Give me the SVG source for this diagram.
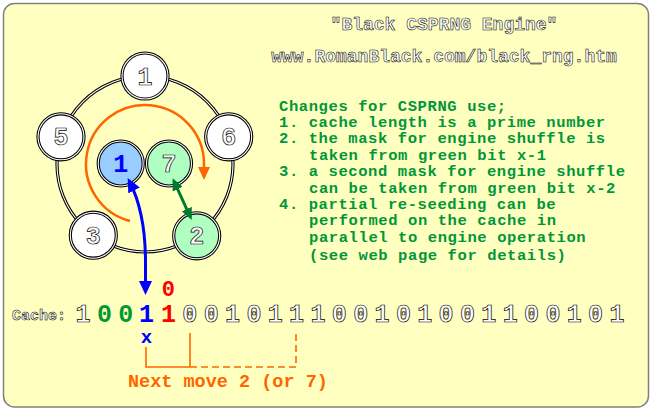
<svg xmlns="http://www.w3.org/2000/svg" width="653" height="411" viewBox="0 0 653 411">
<style>
.mono{font-family:"Liberation Mono","DejaVu Sans Mono",monospace}
.hollow{fill:#fff;stroke:#000;stroke-width:0.7;font-weight:bold}
.thin{stroke-width:0.55}
.green{fill:#00963a;font-weight:bold;font-size:15.5px;letter-spacing:0.6px}
.dbl-o{stroke:#000;stroke-width:3.2}
.dbl-i{fill:none;stroke:#fff;stroke-width:1.1}
.w{fill:#fff}
.g{fill:#b0ffc0}
.b{fill:#99ccff}
.num{font-size:25px;font-weight:bold;text-anchor:middle}
.dig{font-size:25px;text-anchor:middle}
.orange{fill:none;stroke:#ff6600;stroke-width:1.6}
</style>
<defs>
<marker id="mb" viewBox="0 0 14 13" refX="10" refY="6.5" markerWidth="14" markerHeight="13" markerUnits="userSpaceOnUse" orient="auto-start-reverse"><path d="M0,0 L14,6.5 L0,13 z" fill="#0000ff"/></marker>
<marker id="mg" viewBox="0 0 12 11" refX="9" refY="5.5" markerWidth="12" markerHeight="11" markerUnits="userSpaceOnUse" orient="auto-start-reverse"><path d="M0,0 L12,5.5 L0,11 z" fill="#007a30"/></marker>
<marker id="mo" viewBox="0 0 13 12" refX="10" refY="6" markerWidth="13" markerHeight="12" markerUnits="userSpaceOnUse" orient="auto"><path d="M0,0 L13,6 L0,12 z" fill="#ff6600"/></marker>
</defs>
<rect x="0" y="0" width="653" height="411" fill="#fff"/>
<rect id="panel" x="3.5" y="3.5" width="645" height="403.5" rx="11" fill="#ffffc0" stroke="#808080" stroke-width="1.5"/>

<g id="ring">
<circle cx="145" cy="164" r="88" fill="none" class="dbl-o"/>
<circle cx="145" cy="164" r="88" class="dbl-i"/>
</g>

<g id="connectors">
<path d="M130,221 A59,59 0 1 1 204,164 L204,177" fill="none" stroke="#ff6600" stroke-width="2.5" marker-end="url(#mo)"/>
</g>

<g id="node-1">
<circle cx="145" cy="76" r="23" class="dbl-o w"/><circle cx="145" cy="76" r="23" class="dbl-i"/>
<text x="145" y="84.5" class="mono hollow num">1</text>
</g>
<g id="node-6">
<circle cx="228.7" cy="136.8" r="23" class="dbl-o w"/><circle cx="228.7" cy="136.8" r="23" class="dbl-i"/>
<text x="228.7" y="145.3" class="mono hollow num">6</text>
</g>
<g id="node-2">
<circle cx="196.7" cy="235.8" r="23" class="dbl-o g"/><circle cx="196.7" cy="235.8" r="23" class="dbl-i"/>
<text x="196.7" y="244.3" class="mono hollow num">2</text>
</g>
<g id="node-3">
<circle cx="93.3" cy="235.2" r="23" class="dbl-o w"/><circle cx="93.3" cy="235.2" r="23" class="dbl-i"/>
<text x="93.3" y="243.7" class="mono hollow num">3</text>
</g>
<g id="node-5">
<circle cx="61" cy="136.8" r="23" class="dbl-o w"/><circle cx="61" cy="136.8" r="23" class="dbl-i"/>
<text x="61" y="145.3" class="mono hollow num">5</text>
</g>
<g id="inner-1">
<circle cx="120.7" cy="163.5" r="22.5" class="dbl-o b"/><circle cx="120.7" cy="163.5" r="22.5" class="dbl-i"/>
<text x="120.7" y="172" class="mono num" fill="#0000ff">1</text>
</g>
<g id="inner-7">
<circle cx="169" cy="163.5" r="22.5" class="dbl-o g"/><circle cx="169" cy="163.5" r="22.5" class="dbl-i"/>
<text x="169" y="172" class="mono hollow num">7</text>
</g>

<g id="arrows">
<path d="M145.5,291 L145.5,262 C145.5,228 139,200 129.5,181.5" fill="none" stroke="#0000ff" stroke-width="3" marker-start="url(#mb)" marker-end="url(#mb)"/>
<path d="M173.9,181 L190.5,217.3" fill="none" stroke="#007a30" stroke-width="3" marker-start="url(#mg)" marker-end="url(#mg)"/>
<path d="M146,347 V367 H190 M190,333 V367" class="orange"/>
<path d="M190,367 H296 V334" class="orange" stroke-dasharray="7 4"/>
</g>

<g id="header">
<text x="444" y="30" class="mono hollow thin" font-size="18" text-anchor="middle">"Black CSPRNG Engine"</text>
<text x="444" y="61.5" class="mono hollow thin" font-size="18" text-anchor="middle">www.RomanBlack.com/black_rng.htm</text>
</g>

<g id="notes" class="mono green">
<text x="279" y="110.7">Changes for CSPRNG use;</text>
<text x="279" y="127">1. cache length is a prime number</text>
<text x="279" y="143.4">2. the mask for engine shuffle is</text>
<text x="309" y="159.8">taken from green bit x-1</text>
<text x="279" y="176.2">3. a second mask for engine shuffle</text>
<text x="309" y="192.6">can be taken from green bit x-2</text>
<text x="279" y="209">4. partial re-seeding can be</text>
<text x="309" y="225.4">performed on the cache in</text>
<text x="309" y="241.8">parallel to engine operation</text>
<text x="309" y="259.5">(see web page for details)</text>
</g>

<g id="cache">
<text x="12" y="319.5" class="mono hollow thin" font-size="15">Cache:</text>
<text x="83" y="321.7" class="mono hollow dig">1</text>
<text x="104.4 125.7" y="321.7" class="mono dig" fill="#009933" font-weight="bold">00</text>
<text x="146.5" y="321.7" class="mono dig" fill="#0000ff" font-weight="bold">1</text>
<text x="168.4" y="321.7" class="mono dig" fill="#ff0000" font-weight="bold">1</text>
<text x="189.8 211.2 232.5 253.9 275.2 296.6 318 339.3 360.7 382 403.4 424.8 446.1 467.5 488.8 510.2 531.6 552.9 574.3 595.6 617" y="321.7" class="mono hollow dig">001011100101001100101</text>
<text x="168.4" y="296" class="mono" font-size="22" font-weight="bold" fill="#ff0000" text-anchor="middle">0</text>
<text x="146.5" y="343" class="mono" font-size="19" font-weight="bold" fill="#0000ff" text-anchor="middle">x</text>
<text x="128" y="387.3" class="mono" font-size="18.5" font-weight="bold" fill="#ff6600">Next move 2 (or 7)</text>
</g>
</svg>
